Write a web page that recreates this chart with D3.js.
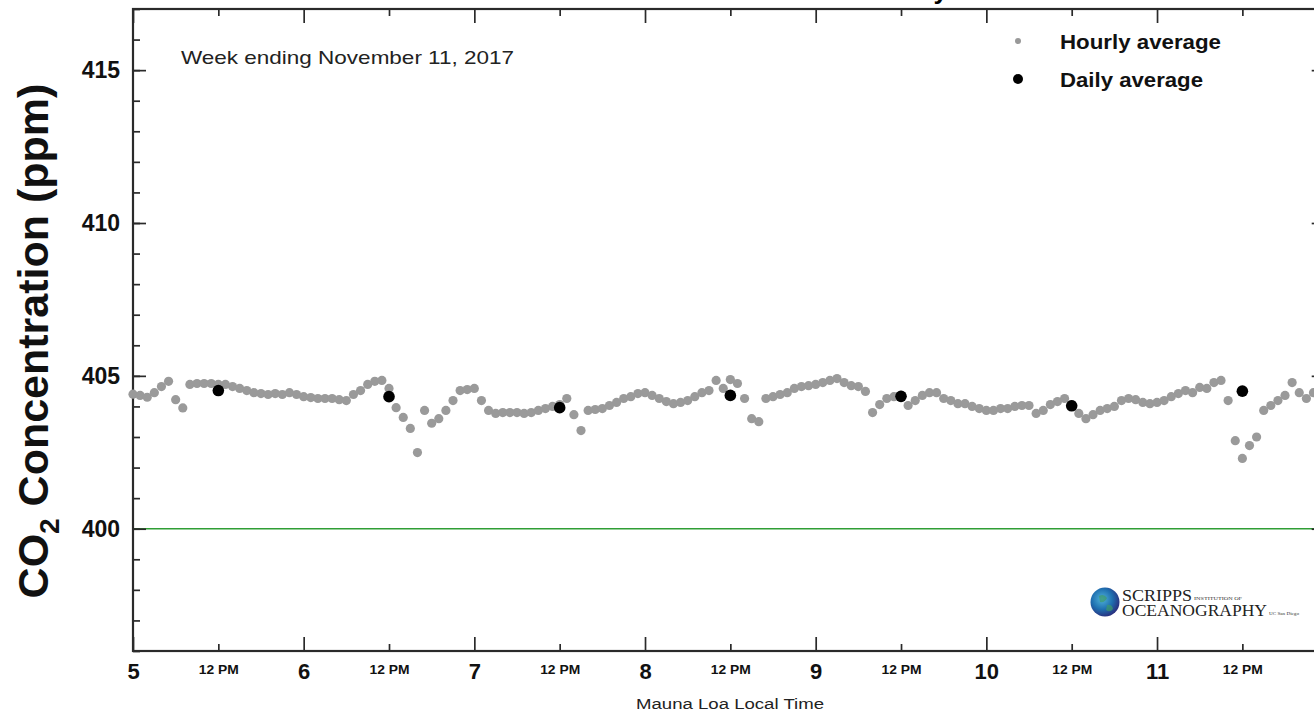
<!DOCTYPE html>
<html><head><meta charset="utf-8">
<script src="https://cdn.jsdelivr.net/npm/d3@7/dist/d3.min.js"></script>
<style>
body{margin:0;background:#fff;overflow:hidden;}
svg{display:block;font-family:"Liberation Sans",Arial,Helvetica,sans-serif;}
</style></head><body><div id="chart"></div>
<script>
/* Mauna Loa CO2, week ending Nov 11 2017: hourly averages (grey) and
   daily averages (black) against local time. */
var dayTicks=[5,6,7,8,9,10,11,12];
var noonTicks=[5.5,6.5,7.5,8.5,9.5,10.5,11.5];
var yMajorTicks=[400,405,410,415];
var yMinorTicks=d3.range(396,418,1);

// hourly averages, one per hour starting at local midnight of each day
var hourlyNov5=[404.40,404.36,404.30,404.45,404.65,404.82,404.22,403.95,404.72,404.75,404.75,404.75,
                404.72,404.72,404.65,404.59,404.52,404.45,404.42,404.39,404.42,404.39,404.45,404.39];
var hourlyNov6=[404.32,404.29,404.26,404.26,404.26,404.22,404.19,404.39,404.52,404.72,404.82,404.85,
                404.59,403.96,403.64,403.28,402.49,403.87,403.45,403.60,403.87,404.19,404.52,404.55];
var hourlyNov7=[404.59,404.19,403.87,403.77,403.80,403.80,403.80,403.77,403.80,403.87,403.93,404.00,
                404.06,404.26,403.73,403.21,403.87,403.90,403.93,404.03,404.13,404.26,404.32,404.42];
var hourlyNov8=[404.45,404.36,404.26,404.16,404.09,404.13,404.19,404.32,404.45,404.52,404.85,404.59,
                404.88,404.75,404.26,403.60,403.50,404.26,404.32,404.39,404.45,404.59,404.65,404.68];
var hourlyNov9=[404.72,404.78,404.85,404.91,404.78,404.68,404.65,404.49,403.80,404.06,404.26,404.32,
                404.36,404.03,404.19,404.36,404.45,404.45,404.26,404.19,404.09,404.09,404.00,403.93];
var hourlyNov10=[403.87,403.87,403.93,403.93,404.00,404.03,404.03,403.77,403.87,404.06,404.16,404.26,
                 404.06,403.77,403.60,403.73,403.87,403.93,404.00,404.19,404.26,404.22,404.13,404.09];
var hourlyNov11=[404.13,404.19,404.32,404.42,404.52,404.45,404.62,404.59,404.78,404.85,404.19,402.88,
                 402.30,402.72,403.00,403.87,404.03,404.19,404.36,404.78,404.45,404.26,404.45,404.19];
var dailyDays=[5,6,7,8,9,10,11];
var dailyAvg=[404.52,404.32,403.96,404.36,404.33,404.02,404.50];

var W=1314,H=713;
var svg=d3.select("#chart").append("svg").attr("width",W).attr("height",H);

var x=d3.scaleLinear().domain([5,12]).range([133,1327.7]);
var y=d3.scaleLinear().domain([396,417]).range([651,9]);
var x0=x.range()[0],x1=x.range()[1],yB=y.range()[0],yT=y.range()[1];

var hourly=[];
[hourlyNov5,hourlyNov6,hourlyNov7,hourlyNov8,hourlyNov9,hourlyNov10,hourlyNov11].forEach(function(arr,i){
    arr.forEach(function(v,h){ if(v!=null) hourly.push({t:dailyDays[i]+h/24,v:v}); });
});
var daily=dailyDays.map(function(d,i){return {t:d+0.5,v:dailyAvg[i]};});

// title, mostly above the picture's edge
svg.append("text").attr("x",948).attr("y",-1).attr("text-anchor","end")
    .style("font-weight","bold").style("font-size","26px").text("Mauna Loa Observatory");

// 400 ppm reference line
svg.append("line").attr("x1",x0).attr("x2",x1).attr("y1",y(400)).attr("y2",y(400))
    .attr("stroke","#2f9e35").attr("stroke-width",1.6);

// axes
function styleAxis(g){g.select(".domain").remove();g.selectAll(".tick line").attr("stroke","#2a2a2a").attr("stroke-width",1.7);}

var gxMaj=svg.append("g").attr("transform","translate(0,"+yB+")")
    .call(d3.axisBottom(x).tickValues(dayTicks).tickSize(-14).tickPadding(12)
        .tickFormat(function(d){return d<12?d:"";}));
styleAxis(gxMaj);
gxMaj.selectAll("text").attr("fill","#111").style("font-size","22px").style("font-weight","bold");

var gxMin=svg.append("g").attr("transform","translate(0,"+yB+")")
    .call(d3.axisBottom(x).tickValues(noonTicks).tickSize(-7).tickPadding(14).tickFormat(function(){return "12 PM";}));
styleAxis(gxMin);
gxMin.selectAll("text").attr("fill","#111").style("font-size","12px").style("font-weight","bold")
    .attr("textLength",40).attr("lengthAdjust","spacingAndGlyphs");

var gxTop=svg.append("g").attr("transform","translate(0,"+yT+")")
    .call(d3.axisTop(x).tickValues(dayTicks).tickSize(-14).tickFormat(""));
styleAxis(gxTop);
var gxTop2=svg.append("g").attr("transform","translate(0,"+yT+")")
    .call(d3.axisTop(x).tickValues(noonTicks).tickSize(-7).tickFormat(""));
styleAxis(gxTop2);

var gyMin=svg.append("g").attr("transform","translate("+x0+",0)")
    .call(d3.axisLeft(y).tickValues(yMinorTicks).tickSize(-7).tickFormat(""));
styleAxis(gyMin);
var gyMaj=svg.append("g").attr("transform","translate("+x0+",0)")
    .call(d3.axisLeft(y).tickValues(yMajorTicks).tickSize(-13).tickPadding(13).tickFormat(d3.format("d")));
styleAxis(gyMaj);
gyMaj.selectAll("text").attr("fill","#111").style("font-size","23px").style("font-weight","bold");

var gyR=svg.append("g").attr("transform","translate("+x1+",0)")
    .call(d3.axisRight(y).tickValues(yMajorTicks).tickSize(-16).tickFormat(""));
styleAxis(gyR);
var gyR2=svg.append("g").attr("transform","translate("+x1+",0)")
    .call(d3.axisRight(y).tickValues(yMinorTicks).tickSize(-8).tickFormat(""));
styleAxis(gyR2);

// frame
svg.append("rect").attr("x",x0).attr("y",yT).attr("width",x1-x0).attr("height",yB-yT)
    .attr("fill","none").attr("stroke","#2a2a2a").attr("stroke-width",2.2);

// axis titles
svg.append("text").attr("x",730).attr("y",709).attr("text-anchor","middle")
    .style("font-size","14px").attr("fill","#222").attr("textLength",188).attr("lengthAdjust","spacingAndGlyphs")
    .text("Mauna Loa Local Time");

var yl=svg.append("text").attr("transform","translate(48,341) rotate(-90)").attr("text-anchor","middle")
    .style("font-size","43px").style("font-weight","bold").attr("fill","#111");
yl.append("tspan").text("CO");
yl.append("tspan").attr("dy",11).style("font-size","28px").text("2");
yl.append("tspan").attr("dy",-11).text(" Concentration (ppm)");

// points
svg.append("g").selectAll("circle").data(hourly).enter().append("circle")
    .attr("cx",function(d){return x(d.t);}).attr("cy",function(d){return y(d.v);})
    .attr("r",4.6).attr("fill","#9a9a9a");
svg.append("g").selectAll("circle").data(daily).enter().append("circle")
    .attr("cx",function(d){return x(d.t);}).attr("cy",function(d){return y(d.v);})
    .attr("r",5.8).attr("fill","#000");

// annotation + legend
svg.append("text").attr("x",181).attr("y",64).style("font-size","19px").attr("fill","#222")
    .attr("textLength",333).attr("lengthAdjust","spacingAndGlyphs").text("Week ending November 11, 2017");
svg.append("circle").attr("cx",1018).attr("cy",41).attr("r",3).attr("fill","#999");
svg.append("text").attr("x",1060).attr("y",49).style("font-size","20px").style("font-weight","bold").attr("fill","#111")
    .attr("textLength",161).attr("lengthAdjust","spacingAndGlyphs").text("Hourly average");
svg.append("circle").attr("cx",1018).attr("cy",79).attr("r",5).attr("fill","#000");
svg.append("text").attr("x",1060).attr("y",87).style("font-size","20px").style("font-weight","bold").attr("fill","#111")
    .attr("textLength",143).attr("lengthAdjust","spacingAndGlyphs").text("Daily average");

// Scripps logo
var defs=svg.append("defs");
var grad=defs.append("radialGradient").attr("id","globe").attr("cx","40%").attr("cy","40%").attr("r","65%");
grad.append("stop").attr("offset","0%").attr("stop-color","#4fb3d9");
grad.append("stop").attr("offset","55%").attr("stop-color","#1f6fb0");
grad.append("stop").attr("offset","100%").attr("stop-color","#2a2a7a");
var logo=svg.append("g").attr("transform","translate(1105,602)");
logo.append("circle").attr("r",14.5).attr("fill","url(#globe)");
logo.append("path").attr("d","M-6,-6 q5,-3 8,2 q-2,5 -7,4 z M2,3 q5,-1 6,4 q-3,4 -7,1 z").attr("fill","#3d9a6a").attr("opacity",0.7);
var serif='"Liberation Serif","Times New Roman",serif';
logo.append("text").attr("x",17).attr("y",-1).style("font-family",serif).style("font-size","16px").attr("fill","#222")
    .attr("textLength",70).attr("lengthAdjust","spacingAndGlyphs").text("SCRIPPS");
logo.append("text").attr("x",89).attr("y",-2).style("font-family",serif).style("font-size","5px").attr("fill","#333")
    .attr("textLength",48).attr("lengthAdjust","spacingAndGlyphs").text("INSTITUTION OF");
logo.append("text").attr("x",17).attr("y",14).style("font-family",serif).style("font-size","16px").attr("fill","#222")
    .attr("textLength",145).attr("lengthAdjust","spacingAndGlyphs").text("OCEANOGRAPHY");
logo.append("text").attr("x",164).attr("y",13).style("font-family",serif).style("font-size","4.5px").attr("fill","#333")
    .attr("textLength",30).attr("lengthAdjust","spacingAndGlyphs").text("UC San Diego");
</script></body></html>
